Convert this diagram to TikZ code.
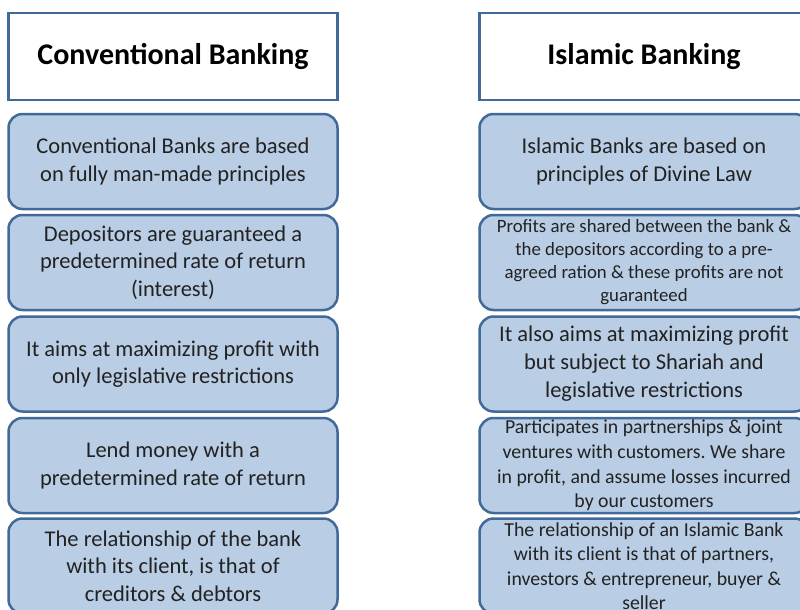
\documentclass[tikz,border=0pt]{standalone}
\usepackage{fontspec}
\setmainfont{Carlito}
\definecolor{cellfill}{HTML}{B9CDE5}
\definecolor{cellline}{HTML}{41699A}
\definecolor{celltext}{HTML}{222222}
\begin{document}
\begin{tikzpicture}[x=1pt,y=-1pt,
  head/.style={draw=cellline,line width=2.5pt,fill=white,minimum width=329pt,minimum height=87pt,inner sep=0pt,font=\fontsize{30}{34}\selectfont\bfseries},
  cell/.style={draw=cellline,line width=2.5pt,fill=cellfill,text=celltext,rounded corners=14pt,minimum width=329pt,minimum height=95pt,align=center,inner sep=0pt,font=\fontsize{22.5}{27.5}\selectfont},
  small/.style={font=\fontsize{18.8}{23}\selectfont}]
\useasboundingbox (0,0) rectangle (800,610);
\clip (0,0) rectangle (800,610);
% headings
\node [head] (convhead) at (173,56.5) {Conventional Banking};
\node [head] (islhead) at (644,56.5) {Islamic Banking};
% conventional column
\node [cell] (conv1) at (173,161.5) {Conventional Banks are based\\on fully man-made principles};
\node [cell] (conv2) at (173,262.5) {Depositors are guaranteed a\\predetermined rate of return\\(interest)};
\node [cell] (conv3) at (173,364) {It aims at maximizing profit with\\only legislative restrictions};
\node [cell] (conv4) at (173,465.5) {Lend money with a\\predetermined rate of return};
\node [cell] (conv5) at (173,566) {The relationship of the bank\\with its client, is that of\\creditors \& debtors};
% islamic column
\node [cell] (isl1) at (644,161.5) {Islamic Banks are based on\\principles of Divine Law};
\node [cell,small] (isl2) at (644,262.5) {Profits are shared between the bank \&\\the depositors according to a pre-\\agreed ration \& these profits are not\\guaranteed};
\node [cell,font=\fontsize{22.5}{28}\selectfont] (isl3) at (644,364) {It also aims at maximizing profit\\but subject to Shariah and\\legislative restrictions};
\node [cell,font=\fontsize{19.8}{24.8}\selectfont] (isl4) at (644,465.5) {Participates in partnerships \& joint\\ventures with customers.\ We share\\in profit, and assume losses incurred\\by our customers};
\node [cell,font=\fontsize{19.8}{24.5}\selectfont] (isl5) at (644,566) {The relationship of an Islamic Bank\\with its client is that of partners,\\investors \& entrepreneur,\ buyer \&\\seller};
\end{tikzpicture}
\end{document}
